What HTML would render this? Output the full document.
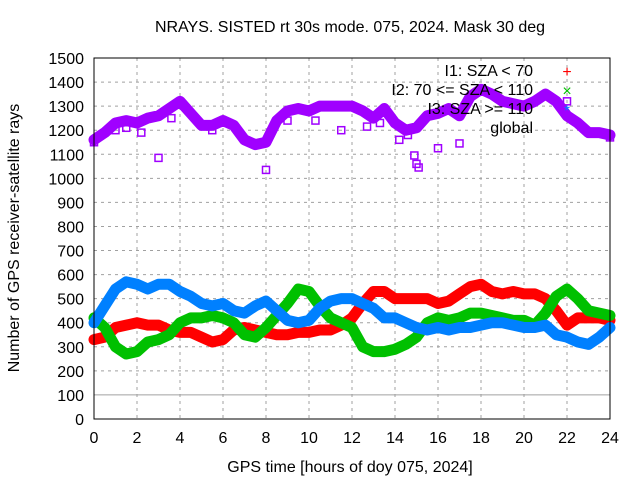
<!DOCTYPE html>
<html><head><meta charset="utf-8"><style>
body{margin:0;background:#fff;}
svg text{font-family:"Liberation Sans",sans-serif;font-size:16px;fill:#000;}
</style></head><body>
<svg id="chart" width="640" height="480" xmlns="http://www.w3.org/2000/svg">
<rect width="640" height="480" fill="#fff"/>
<text x="350" y="32" text-anchor="middle">NRAYS. SISTED rt 30s mode. 075, 2024. Mask 30 deg</text>
<text x="350" y="472" text-anchor="middle">GPS time [hours of doy 075, 2024]</text>
<text transform="translate(19,238) rotate(-90)" text-anchor="middle">Number of GPS receiver-satellite rays</text>
<g id="grid"></g>
<g id="axes"></g>
<g id="series"></g>
<rect x="94" y="58" width="516" height="361" fill="none" stroke="#000" stroke-width="1"/>
<g id="legend">
<text x="533" y="76" text-anchor="end">I1: SZA &lt; 70</text>
<text x="567" y="77" text-anchor="middle" style="fill:#ff0000">+</text>
<text x="533" y="95" text-anchor="end">I2: 70 &lt;= SZA &lt; 110</text>
<text x="567" y="96" text-anchor="middle" style="fill:#00c000">×</text>
<text x="533" y="114" text-anchor="end">I3: SZA &gt;= 110</text>
<text x="567" y="116" text-anchor="middle" style="fill:#0080ff">*</text>
<text x="533" y="133" text-anchor="end">global</text>
</g>
</svg>
<script>
const hours=[0,0.5,1,1.5,2,2.5,3,3.5,4,4.5,5,5.5,6,6.5,7,7.5,8,8.5,9,9.5,10,10.5,11,11.5,12,12.5,13,13.5,14,14.5,15,15.5,16,16.5,17,17.5,18,18.5,19,19.5,20,20.5,21,21.5,22,22.5,23,23.5,24];
const red=[330,340,380,390,400,390,390,370,360,360,340,320,330,370,380,370,360,350,350,360,360,370,370,390,420,480,530,530,500,500,500,500,480,490,520,550,560,530,520,530,520,520,500,450,390,420,420,420,410];
const green=[420,380,300,270,280,320,330,350,400,420,420,430,420,400,350,340,380,430,480,540,530,470,420,400,380,300,280,280,290,310,340,400,420,410,420,440,440,430,420,410,410,390,440,510,540,500,450,440,430];
const blue=[400,470,540,570,560,540,560,560,530,510,480,470,480,450,440,470,490,450,410,400,410,460,490,500,500,480,460,420,420,400,380,370,380,370,380,380,390,400,400,390,380,380,390,350,340,320,310,340,380];
const globalN=[1160,1190,1230,1240,1230,1250,1260,1290,1320,1270,1220,1220,1240,1220,1160,1140,1150,1240,1280,1290,1280,1300,1300,1300,1300,1280,1250,1290,1230,1200,1210,1260,1270,1290,1260,1340,1370,1350,1320,1310,1300,1320,1350,1320,1260,1230,1190,1190,1180];
const outlierT=[0,1,1.5,2.2,3,3.6,5.5,8,9,10.3,11.5,12.7,13.3,14.2,14.6,14.9,15,15.1,16,17,22,24];
const outlierV=[1150,1200,1210,1190,1085,1250,1200,1035,1240,1240,1200,1215,1230,1160,1180,1095,1060,1045,1125,1145,1320,1170];
const xTicks=[0,2,4,6,8,10,12,14,16,18,20,22,24];
const yTicks=[0,100,200,300,400,500,600,700,800,900,1000,1100,1200,1300,1400,1500];
const NS="http://www.w3.org/2000/svg";
const X=h=>94+h*516/24, Y=v=>419-v*361/1500;
function mk(tag,attrs,parent){const e=document.createElementNS(NS,tag);for(const k in attrs)e.setAttribute(k,attrs[k]);parent.appendChild(e);return e;}
const grid=document.getElementById('grid'),axes=document.getElementById('axes'),ser=document.getElementById('series');
yTicks.forEach(v=>{
 if(v>0&&v<1500){const l=mk('line',{x1:94,x2:610,y1:Y(v),y2:Y(v),stroke:'#a0a0a0','stroke-dasharray':v==100?'':'3,4','stroke-width':1},grid);
 
 }
 const t=mk('text',{x:84,y:Y(v)+6,'text-anchor':'end'},axes);t.textContent=v;
 
 
});
xTicks.forEach(h=>{
 if(h>0&&h<24){const l=mk('line',{x1:X(h),x2:X(h),y1:58,y2:419,stroke:'#a0a0a0','stroke-dasharray':'3,4'},grid);
 
 }
 const t=mk('text',{x:X(h),y:443,'text-anchor':'middle'},axes);t.textContent=h;
 
 
});
function draw(vals,color,name){
 const p=mk('polyline',{points:hours.map((h,i)=>X(h)+','+Y(vals[i])).join(' '),fill:'none',stroke:color,'stroke-width':11,'stroke-linejoin':'round','stroke-linecap':'round'},ser);
 
 
}
draw(red,'#ff0000','series-i1');
draw(green,'#00c000','series-i2');
draw(blue,'#0080ff','series-i3');
draw(globalN,'#a000ff','series-global');
outlierT.forEach((h,i)=>{
 const r=mk('rect',{x:X(h)-3.5,y:Y(outlierV[i])-3.5,width:7,height:7,fill:'none',stroke:'#a000ff','stroke-width':1.5},ser);
 
 
});
</script>
</body></html>
